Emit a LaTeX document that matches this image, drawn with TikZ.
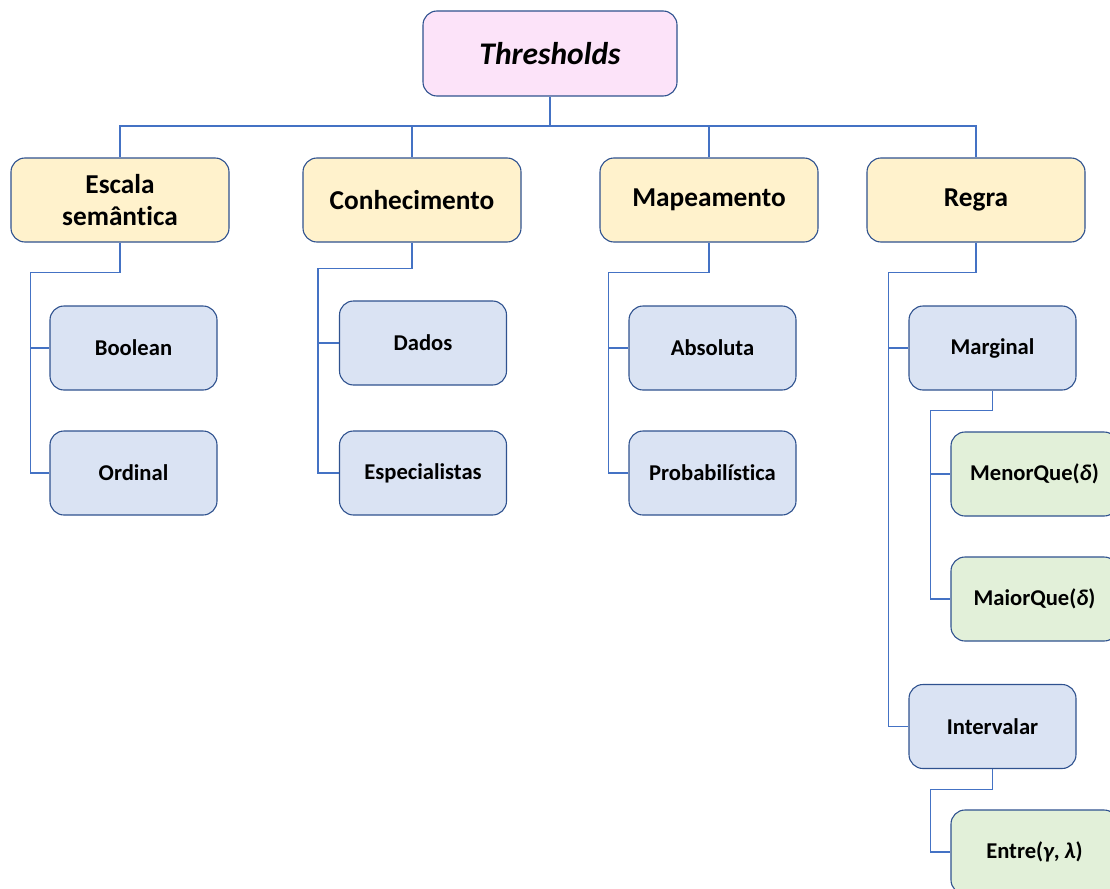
\documentclass[tikz,border=0pt]{standalone}
\usepackage{fontspec}
\setmainfont[Ligatures=NoCommon]{Carlito}
\definecolor{pinkfill}{HTML}{FCE3F9}
\definecolor{yellowfill}{HTML}{FFF2CC}
\definecolor{bluefill}{HTML}{DAE3F3}
\definecolor{greenfill}{HTML}{E2F0D9}
\definecolor{edge}{HTML}{2F528F}
\definecolor{wire}{HTML}{4472C4}
\begin{document}
\begin{tikzpicture}[x=1pt,y=-1pt,
  box/.style={draw=edge, line width=1.1pt, rounded corners=14pt, align=center,
    inner sep=0pt, font=\bfseries},
  rootbox/.style={box, fill=pinkfill, minimum width=254pt, minimum height=85pt,
    font=\bfseries\itshape\fontsize{31.5}{35}\selectfont},
  catbox/.style={box, fill=yellowfill, minimum width=218pt, minimum height=84pt,
    font=\bfseries\fontsize{27.3}{32}\selectfont},
  subbox/.style={box, fill=bluefill, minimum width=167pt, minimum height=84pt,
    font=\bfseries\fontsize{22.6}{26}\selectfont},
  leafbox/.style={box, fill=greenfill, minimum width=167pt, minimum height=84pt,
    font=\bfseries\fontsize{22.6}{26}\selectfont},
  conn/.style={draw=wire, line width=1.1pt}]
\clip (0,0) rectangle (1110,888);
\useasboundingbox (0,0) rectangle (1110,888);

% root
\node[rootbox] (root) at (550,53.5) {Thresholds};

% first level
\node[catbox] (escala) at (120,200) {Escala\\semântica};
\node[catbox] (conhec) at (412,200) {Conhecimento};
\node[catbox] (mapea) at (709,200) {Mapeamento};
\node[catbox] (regra) at (976,200) {Regra};

% second level
\node[subbox] (boolean) at (133.5,348) {Boolean};
\node[subbox] (ordinal) at (133.5,473) {Ordinal};
\node[subbox] (dados) at (423,343) {Dados};
\node[subbox] (especial) at (423,473) {Especialistas};
\node[subbox] (absoluta) at (712.5,348) {Absoluta};
\node[subbox] (probab) at (712.5,473) {Probabilística};
\node[subbox] (marginal) at (992.5,348) {Marginal};
\node[subbox] (interv) at (992.5,726.5) {Intervalar};

% third level
\node[leafbox] (menor) at (1034.5,474) {MenorQue(\textit{δ})};
\node[leafbox] (maior) at (1034.5,599) {MaiorQue(\textit{δ})};
\node[leafbox] (entre) at (1034.5,852) {Entre(\textit{γ}, \textit{λ})};

% bus under the root
\coordinate (bus) at (550,126);
\draw[conn] (root.south) -- (bus);
\draw[conn] (bus) -| (escala.north);
\draw[conn] (bus) -| (conhec.north);
\draw[conn] (bus) -| (mapea.north);
\draw[conn] (bus) -| (regra.north);

% branches
\draw[conn] (escala.south) -- ++(0,30) -| ([xshift=-19pt]ordinal.west) -- (ordinal.west);
\draw[conn] ([xshift=-19pt]boolean.west) -- (boolean.west);

\draw[conn] (conhec.south) -- ++(0,26) -| ([xshift=-21pt]especial.west) -- (especial.west);
\draw[conn] ([xshift=-21pt]dados.west) -- (dados.west);

\draw[conn] (mapea.south) -- ++(0,30) -| ([xshift=-20pt]probab.west) -- (probab.west);
\draw[conn] ([xshift=-20pt]absoluta.west) -- (absoluta.west);

\draw[conn] (regra.south) -- ++(0,30) -| ([xshift=-20pt]interv.west) -- (interv.west);
\draw[conn] ([xshift=-20pt]marginal.west) -- (marginal.west);

\draw[conn] (marginal.south) -- ++(0,20) -| ([xshift=-20pt]maior.west) -- (maior.west);
\draw[conn] ([xshift=-20pt]menor.west) -- (menor.west);

\draw[conn] (interv.south) -- ++(0,20) -| ([xshift=-20pt]entre.west) -- (entre.west);
\end{tikzpicture}
\end{document}
